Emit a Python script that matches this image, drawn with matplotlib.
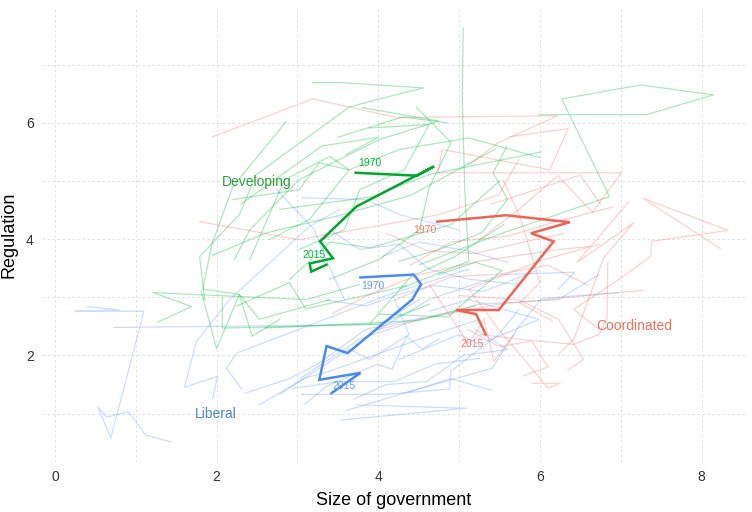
import matplotlib
matplotlib.use("Agg")
import matplotlib.pyplot as plt

plt.rcParams['font.family'] = ['Liberation Sans', 'DejaVu Sans']

# country paths (size of government, regulation)
liberal_paths = [
    [(0.40, 2.84), (0.80, 2.78), (0.25, 2.76), (1.10, 2.76), (0.69, 0.58), (0.53, 1.11),
     (0.64, 0.94), (0.91, 1.03), (1.12, 0.63), (1.44, 0.51)],
    [(0.73, 2.48), (4.01, 2.53), (4.51, 2.96)],
    [(1.95, 1.25), (2.01, 1.64), (1.60, 1.45), (1.75, 2.24), (2.16, 2.96), (3.15, 4.22), (3.52, 4.51)],
    [(2.31, 1.42), (2.12, 1.78), (2.25, 2.04), (3.02, 2.45), (4.14, 3.05), (5.12, 3.48)],
    [(2.53, 1.15), (3.09, 1.61), (3.40, 1.73), (4.51, 2.28), (5.25, 2.62)],
    [(3.73, 1.15), (5.09, 1.09), (3.54, 0.89)],
    [(3.09, 1.16), (3.36, 1.47), (3.99, 1.85), (4.17, 1.76), (4.35, 2.33), (4.54, 2.11), (4.75, 2.28)],
    [(3.05, 1.33), (4.10, 1.33), (4.88, 1.42), (4.90, 1.73), (5.49, 2.36), (5.74, 2.79)],
    [(4.37, 1.37), (5.41, 1.78), (5.73, 2.48), (6.02, 2.98), (6.96, 3.08)],
    [(4.01, 2.45), (4.63, 2.96), (5.54, 3.39), (6.43, 3.43), (6.23, 3.14)],
    [(2.74, 4.85), (3.21, 4.16), (3.30, 3.82), (3.58, 2.96)],
    [(3.06, 4.71), (3.85, 4.68), (4.26, 4.42), (5.00, 4.16)],
    [(4.26, 1.93), (5.00, 2.36), (5.25, 2.19), (5.99, 2.62), (5.12, 2.96), (4.63, 2.76)],
    [(3.02, 1.59), (3.77, 2.28), (4.51, 2.62), (5.25, 2.88), (6.23, 2.96), (6.73, 3.39)],
    [(3.40, 4.16), (3.77, 3.82), (4.26, 3.91), (4.63, 3.48), (5.12, 3.31), (5.74, 3.22)],
    [(2.78, 1.33), (3.64, 2.11), (3.89, 1.93), (4.38, 2.36), (4.20, 2.96)],
    [(3.35, 2.95), (3.85, 2.85), (4.25, 3.05), (4.70, 3.20), (5.30, 3.10), (5.95, 3.45)],
    [(2.95, 1.43), (3.50, 1.55), (4.20, 1.55), (4.70, 1.85), (5.25, 1.95)],
    [(3.70, 1.25), (4.10, 1.50), (4.60, 1.55), (5.05, 2.00), (5.60, 2.10), (5.20, 2.45)],
    [(2.35, 1.35), (2.90, 1.60), (3.25, 1.85), (3.85, 2.45), (4.55, 2.65)],
    [(4.05, 3.70), (4.50, 3.95), (5.10, 3.80), (5.60, 3.60)],
    [(3.60, 1.05), (4.20, 1.30), (4.90, 1.60), (5.40, 1.40)],
]

coordinated_paths = [
    [(1.95, 5.76), (3.19, 6.41), (4.23, 6.09), (6.22, 6.12), (5.49, 5.66), (5.12, 5.28)],
    [(5.63, 5.76), (6.35, 5.90), (6.12, 5.19), (4.79, 5.54), (4.74, 5.14), (7.01, 5.14),
     (6.65, 4.46), (6.22, 5.09), (5.74, 4.51), (5.25, 3.99)],
    [(8.23, 3.84), (7.28, 4.70), (8.33, 4.15), (7.38, 3.96), (7.37, 3.70), (6.98, 3.31),
     (6.42, 2.79), (6.73, 2.45)],
    [(7.10, 4.64), (6.46, 3.60), (7.16, 4.28), (6.79, 3.68), (6.60, 2.96), (6.42, 2.28), (6.23, 2.02)],
    [(5.91, 1.52), (6.25, 1.52), (6.10, 1.44), (5.49, 2.45), (5.12, 3.14), (5.99, 3.62), (6.73, 3.91)],
    [(6.35, 1.75), (6.54, 1.93), (6.23, 2.62), (5.74, 2.96), (5.00, 3.03)],
    [(6.84, 3.60), (6.83, 2.64), (6.73, 2.36), (6.42, 2.19), (5.74, 2.28), (5.25, 2.36)],
    [(7.27, 3.12), (5.49, 2.88), (4.51, 2.62), (4.01, 2.45)],
    [(3.43, 2.72), (3.93, 3.07), (4.51, 3.39), (5.25, 3.62), (6.23, 3.82), (6.60, 3.87)],
    [(1.79, 4.30), (3.02, 3.99), (3.96, 4.22), (4.75, 4.42), (5.49, 4.76), (5.74, 5.37)],
    [(4.63, 3.22), (5.12, 2.19), (5.31, 2.62), (5.43, 1.90), (5.68, 2.36)],
    [(4.40, 3.55), (4.90, 3.95), (5.60, 4.05), (6.20, 4.30), (6.90, 4.55)],
    [(5.10, 2.45), (5.50, 2.15), (5.90, 2.25), (6.10, 1.80), (5.80, 1.65)],
    [(4.20, 2.95), (4.90, 3.35), (5.50, 3.40), (6.10, 3.55), (6.60, 3.20)],
    [(5.40, 4.60), (5.95, 4.85), (6.50, 5.10), (6.75, 4.60)],
    [(4.10, 4.10), (4.60, 3.80), (5.20, 3.75), (5.80, 3.95), (6.30, 4.10)],
    [(5.55, 5.00), (5.75, 4.40), (6.00, 3.25), (5.75, 2.90), (6.15, 2.60)],
]

developing_paths = [
    [(5.98, 6.14), (7.32, 6.14), (8.15, 6.48), (7.25, 6.65), (6.27, 6.41), (6.86, 4.73),
     (5.49, 4.08), (4.51, 3.56)],
    [(5.05, 7.63), (5.04, 6.39), (5.07, 4.85), (5.12, 3.62), (4.26, 3.14)],
    [(3.19, 6.69), (3.54, 6.69), (4.56, 6.60), (3.96, 6.39), (3.64, 6.27), (2.49, 5.11),
     (2.28, 4.42), (1.79, 3.70), (1.85, 2.96)],
    [(2.86, 6.02), (2.20, 4.90), (1.94, 3.91), (1.83, 3.14), (2.28, 3.05), (2.44, 2.33), (2.78, 2.62)],
    [(1.27, 2.57), (1.69, 2.84), (1.21, 3.08), (3.11, 2.96), (3.77, 3.22)],
    [(2.07, 3.00), (2.07, 2.47), (3.02, 2.50), (4.01, 2.54), (4.63, 2.88)],
    [(1.81, 3.10), (2.00, 2.11), (2.28, 3.05), (2.53, 2.62), (3.40, 2.96)],
    [(2.20, 4.68), (3.02, 4.85), (3.27, 5.31), (3.64, 5.19), (4.26, 5.54), (5.12, 5.74), (6.00, 5.40)],
    [(2.78, 4.51), (3.93, 4.73), (4.63, 5.11), (6.02, 5.50)],
    [(3.80, 6.26), (4.75, 6.03), (4.01, 5.71), (3.02, 5.02), (2.41, 4.16), (2.22, 3.65)],
    [(4.47, 6.27), (4.90, 5.66), (4.63, 4.89), (4.51, 4.16), (4.01, 3.65), (3.40, 3.31)],
    [(5.59, 5.59), (5.42, 5.14), (5.60, 4.68), (5.28, 4.11), (4.75, 3.82), (4.26, 3.62)],
    [(4.01, 2.71), (4.86, 2.66), (5.53, 3.46), (5.20, 3.60), (4.75, 3.39)],
    [(2.41, 3.65), (2.84, 5.02), (3.40, 5.42), (3.64, 5.19), (3.15, 4.34), (2.65, 3.99)],
    [(3.89, 5.91), (4.63, 5.97), (4.32, 5.19), (3.77, 4.85), (3.58, 4.16), (3.02, 3.82)],
    [(2.60, 2.47), (4.50, 2.60), (5.20, 2.85)],
    [(2.30, 4.60), (3.30, 5.60), (4.00, 5.75), (3.60, 5.45)],
    [(1.95, 3.72), (2.60, 4.10), (3.50, 4.40), (4.40, 4.75), (5.45, 5.55)],
    [(2.90, 3.30), (3.40, 3.95), (3.90, 3.85), (4.90, 4.25), (5.50, 5.00)],
    [(2.25, 2.85), (2.90, 3.25), (3.10, 2.80), (3.90, 3.05), (4.35, 3.20)],
    [(3.90, 2.55), (4.40, 3.35), (4.95, 3.70), (5.55, 4.25)],
    [(3.50, 5.75), (4.30, 6.10), (4.85, 6.00)],
]

# group averages, 1970 -> 2015
liberal_x = [3.78, 4.44, 4.53, 4.42, 3.62, 3.36, 3.27, 3.78, 3.42]
liberal_y = [3.34, 3.39, 3.22, 2.96, 2.04, 2.16, 1.58, 1.70, 1.35]
coordinated_x = [4.73, 5.58, 6.37, 5.89, 6.17, 5.49, 4.96, 5.21, 5.33]
coordinated_y = [4.30, 4.41, 4.29, 4.10, 3.96, 2.78, 2.78, 2.71, 2.36]
developing_x = [3.72, 4.48, 4.69, 3.73, 3.28, 3.44, 3.15, 3.17, 3.36]
developing_y = [5.14, 5.09, 5.25, 4.56, 3.96, 3.67, 3.58, 3.44, 3.56]

groups = ['Liberal', 'Coordinated', 'Developing']
colors = {'Liberal': '#619CFF', 'Coordinated': '#F8766D', 'Developing': '#00BA38'}
mean_colors = {'Liberal': '#4A8AF4', 'Coordinated': '#EF6457', 'Developing': '#00A832'}
label_colors = {'Liberal': '#4F86C6', 'Coordinated': '#F0705F', 'Developing': '#2E9E40'}
label_pos = {'Liberal': (1.99, 0.99), 'Coordinated': (7.17, 2.50), 'Developing': (2.49, 4.99)}
year_pos = {
    'Liberal': [(3.93, 3.19), (3.58, 1.48)],
    'Coordinated': [(4.57, 4.15), (5.16, 2.19)],
    'Developing': [(3.89, 5.31), (3.20, 3.72)],
}
years = ['1970', '2015']

paths = {'Liberal': liberal_paths, 'Coordinated': coordinated_paths, 'Developing': developing_paths}
means = {'Liberal': (liberal_x, liberal_y), 'Coordinated': (coordinated_x, coordinated_y),
         'Developing': (developing_x, developing_y)}

fig = plt.figure(figsize=(7.52, 5.12), dpi=100)
ax = fig.add_axes([0.056, 0.098, 0.936, 0.886])

for g in groups:
    for p in paths[g]:
        xs = [pt[0] for pt in p]
        ys = [pt[1] for pt in p]
        ax.plot(xs, ys, color=colors[g], alpha=0.33, lw=0.9)

for g in groups:
    mx, my = means[g]
    ax.plot(mx, my, color=mean_colors[g], lw=1.8, solid_joinstyle='miter')
    for yr, (tx, ty) in zip(years, year_pos[g]):
        ax.text(tx, ty, yr, color=colors[g], fontsize=7.5, ha='center', va='center')
    lx, ly = label_pos[g]
    ax.text(lx, ly, g, color=label_colors[g], fontsize=10, ha='center', va='center')

ax.set_xlim(-0.16, 8.55)
ax.set_ylim(0.17, 7.97)
ax.set_xticks([0, 2, 4, 6, 8])
ax.set_yticks([2, 4, 6])
ax.set_xticks([1, 3, 5, 7], minor=True)
ax.set_yticks([1, 3, 5, 7], minor=True)
ax.grid(which='both', color='#dcdcdc', linestyle=(0, (3, 3)), lw=0.6)
ax.set_axisbelow(True)
ax.tick_params(which='both', length=0, labelsize=10, labelcolor='#333333', pad=6)
for s in ax.spines.values():
    s.set_visible(False)

ax.set_xlabel('Size of government', fontsize=13, labelpad=6)
ax.set_ylabel('Regulation', fontsize=13, labelpad=6)

fig.savefig('out.png', dpi=100)
